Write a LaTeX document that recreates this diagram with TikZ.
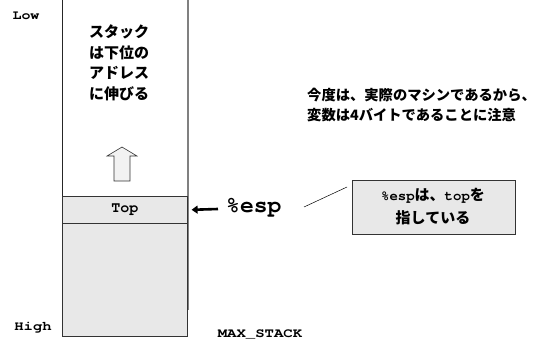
\documentclass[tikz,border=0pt]{standalone}
\usepackage{fontspec}
\setmonofont{TeX Gyre Cursor}
\newfontfamily\jp{Noto Sans CJK JP}
\usetikzlibrary{arrows.meta}
\definecolor{cellgray}{HTML}{E8E8E8}
\definecolor{shadowgray}{HTML}{808080}
\tikzset{
  mono/.style={font=\ttfamily\bfseries, inner sep=0pt},
  jptext/.style={font=\jp\bfseries, inner sep=0pt, align=left},
  cell/.style={draw=black!80, fill=cellgray, line width=0.6pt},
}
\begin{document}
\begin{tikzpicture}[x=1pt,y=-1pt]
\useasboundingbox (0,0) rectangle (555,343);
% stack column
\draw[line width=0.7pt, black!85] (62,0) -- (62,196);
\draw[line width=1.6pt, shadowgray] (188,0) -- (188,196);
\draw[line width=1.6pt, shadowgray] (188,196) -- (188,310);
\node[cell, minimum width=125pt, minimum height=27pt, anchor=north west] (top) at (62,196) {};
\node[cell, minimum width=125pt, minimum height=113pt, anchor=north west] (rest) at (62,223) {};
\node[mono, font=\ttfamily\bfseries\fontsize{15}{15}\selectfont] (toplabel) at (top.center) {Top};
% hollow up arrow
\draw[fill=gray!10, draw=black!80, line width=0.6pt] (114,181) -- (114,156) -- (107,156) -- (122,147) -- (137,156) -- (130,156) -- (130,181) -- cycle;
% growth text
\node[jptext, font=\jp\bfseries\fontsize{15}{20.5}\selectfont, anchor=north west] (grow) at (89,25)
  {スタック\\は下位の\\アドレス\\に伸びる};
% labels
\node[mono, font=\ttfamily\bfseries\fontsize{13}{13}\selectfont] (low) at (26,16) {\scalebox{1.15}[1]{Low}};
\node[mono, font=\ttfamily\bfseries\fontsize{13}{13}\selectfont] (high) at (33,328) {\scalebox{1.2}[1]{High}};
\node[mono, font=\ttfamily\bfseries\fontsize{13}{13}\selectfont] (maxs) at (260,334) {\scalebox{1.2}[1]{MAX\_STACK}};
% esp
\node[mono, font=\ttfamily\bfseries\fontsize{23}{23}\selectfont, anchor=west] (esp) at (226,208) {\%esp};
\coordinate (espArrowStart) at (218,209);
\coordinate (espArrowEnd) at (top.east);
\draw[line width=2.6pt, -{Triangle[length=6pt,width=8pt]}] (espArrowStart) -- ([xshift=4pt]espArrowEnd);
% note at right top
\node[jptext, font=\jp\bfseries\fontsize{14.3}{20}\selectfont, anchor=north west] (note) at (307,88)
  {今度は、実際のマシンであるから、\\変数は4バイトであることに注意};
% callout box
\node[draw=black!80, fill=cellgray, line width=0.7pt, minimum width=163pt, minimum height=54pt, anchor=north west] (callbox) at (352,180) {};
\node[jptext, align=center, font=\jp\bfseries\fontsize{15}{23}\selectfont] (calltext) at (433,207)
  {{\ttfamily\bfseries\fontsize{14}{14}\selectfont\%esp}は、{\ttfamily\bfseries\fontsize{14}{14}\selectfont top}を\\指している};
\coordinate (callA) at (304,207);
\coordinate (callB) at (347,187);
\draw[line width=0.5pt] (callA) -- (callB);
\end{tikzpicture}
\end{document}
